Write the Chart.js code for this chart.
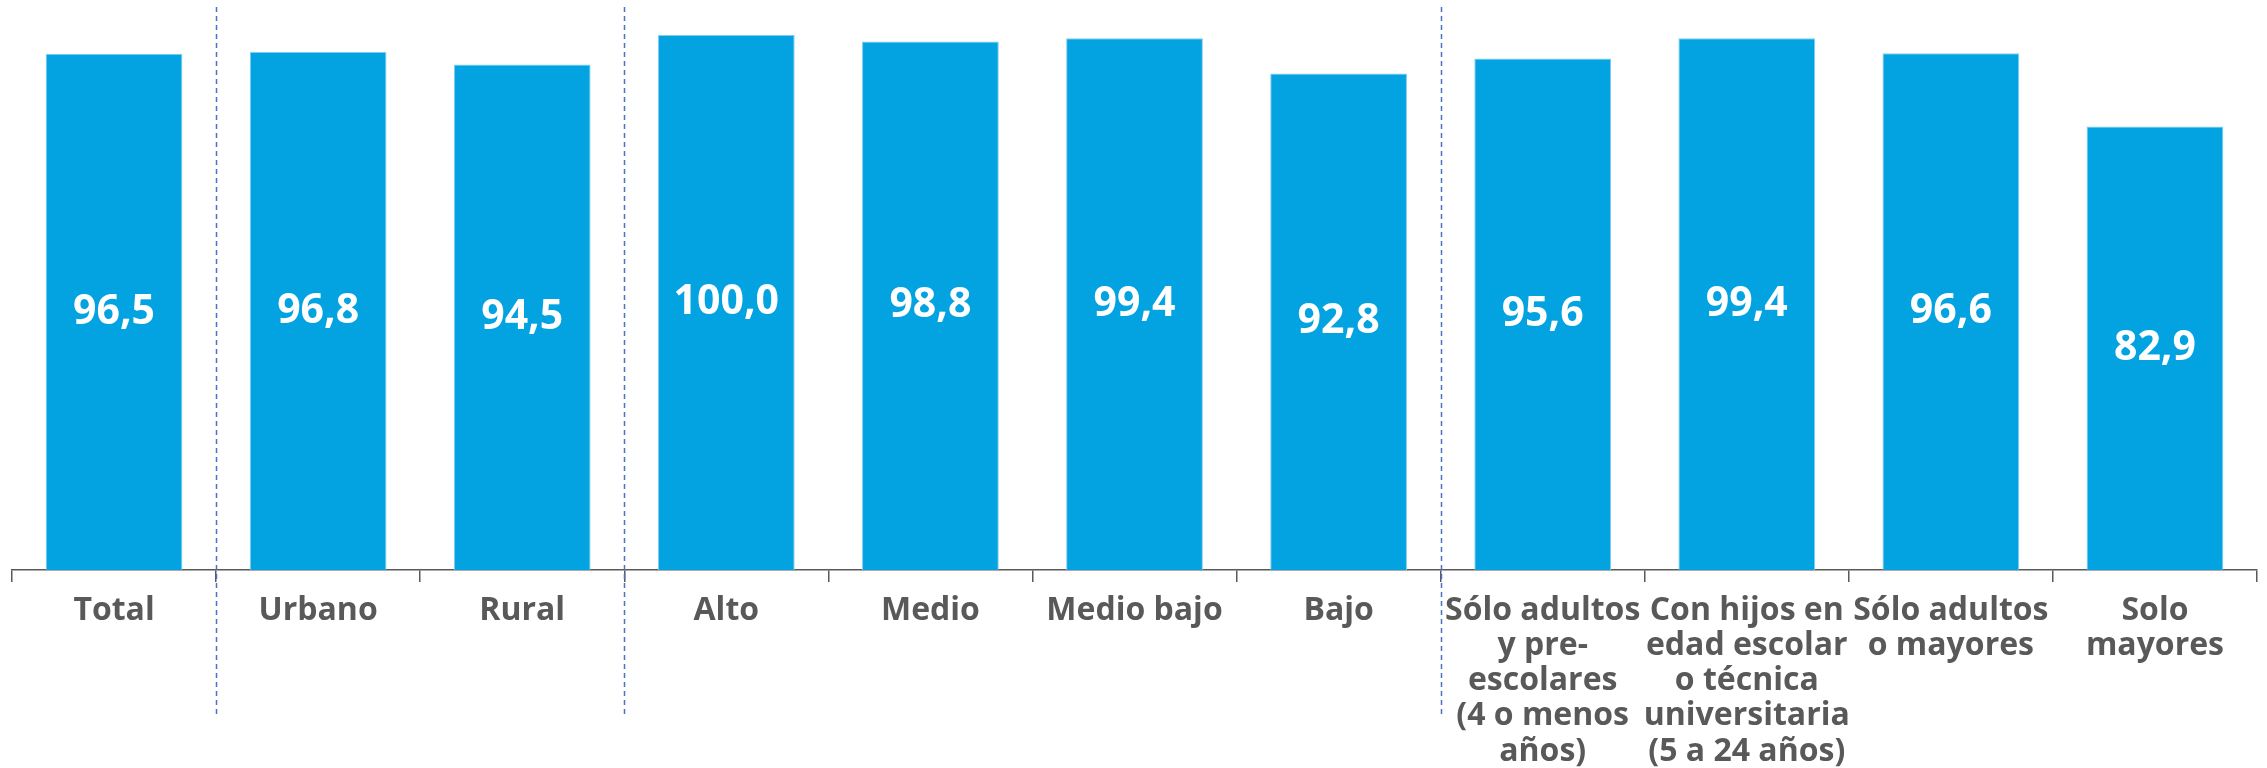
<!DOCTYPE html>
<html>
<head>
<meta charset="utf-8">
<script src="https://cdn.jsdelivr.net/npm/chart.js@4"></script>
<style>
  body { margin: 0; background: #fff; }
  #wrap { width: 2267px; height: 768px; position: relative; }
</style>
</head>
<body>
<div id="wrap"><canvas id="myChart"></canvas></div>
<script>
var categories = [
    'Total',
    'Urbano',
    'Rural',
    'Alto',
    'Medio',
    'Medio bajo',
    'Bajo',
    ['Sólo adultos', 'y pre-', 'escolares', '(4 o menos', 'años)'],
    ['Con hijos en', 'edad escolar', 'o técnica', 'universitaria', '(5 a 24 años)'],
    ['Sólo adultos', 'o mayores'],
    ['Solo', 'mayores']
];
var values = [96.5, 96.8, 94.5, 100.0, 98.8, 99.4, 92.8, 95.6, 99.4, 96.6, 82.9];
// dashed separator goes after these category indexes
var groupBreaks = [0, 2, 6];

var barColor = '#02a3e0';
var textGray = '#595959';

var separatorPlugin = {
    id: 'separators',
    afterDraw: function(chart) {
        var ctx = chart.ctx;
        var xs = chart.scales.x;
        ctx.save();
        ctx.strokeStyle = '#4a72c4';
        ctx.lineWidth = 1.5;
        ctx.setLineDash([5, 4]);
        groupBreaks.forEach(function(i) {
            var x = Math.round((xs.getPixelForValue(i) + xs.getPixelForValue(i + 1)) / 2) + 0.5;
            ctx.beginPath();
            ctx.moveTo(x, 7);
            ctx.lineTo(x, 717);
            ctx.stroke();
        });
        ctx.restore();
    }
};

var valueLabelPlugin = {
    id: 'valueLabels',
    afterDatasetsDraw: function(chart) {
        var ctx = chart.ctx;
        var meta = chart.getDatasetMeta(0);
        ctx.save();
        ctx.fillStyle = '#ffffff';
        ctx.font = 'bold 41px "Open Sans"';
        ctx.textAlign = 'center';
        ctx.textBaseline = 'middle';
        meta.data.forEach(function(bar, i) {
            var label = values[i].toFixed(1).replace('.', ',');
            ctx.fillText(label, bar.x, (bar.y + bar.base) / 2);
        });
        ctx.restore();
    }
};

var ctx = document.getElementById('myChart').getContext('2d');
var myChart = new Chart(ctx, {
    type: 'bar',
    data: {
        labels: categories,
        datasets: [{
            label: 'Valor',
            data: values,
            backgroundColor: barColor,
            borderColor: '#7fcdf0',
            borderWidth: 1,
            barPercentage: 0.67,
            categoryPercentage: 1
        }]
    },
    options: {
        responsive: true,
        maintainAspectRatio: false,
        animation: false,
        layout: {
            padding: { left: 12, right: 10, top: 35, bottom: -12 }
        },
        plugins: {
            legend: { display: false },
            tooltip: { enabled: false }
        },
        scales: {
            y: {
                display: false,
                min: 0,
                max: 100
            },
            x: {
                grid: {
                    offset: true,
                    drawOnChartArea: false,
                    drawTicks: true,
                    tickLength: 12,
                    color: textGray,
                    lineWidth: 1.5
                },
                border: {
                    display: true,
                    color: textGray,
                    width: 1.5
                },
                ticks: {
                    autoSkip: false,
                    maxRotation: 0,
                    padding: 11,
                    color: textGray,
                    font: { family: '"Open Sans"', size: 32, weight: 'bold', lineHeight: 1.1 }
                }
            }
        }
    },
    plugins: [separatorPlugin, valueLabelPlugin]
});
</script>
</body>
</html>
